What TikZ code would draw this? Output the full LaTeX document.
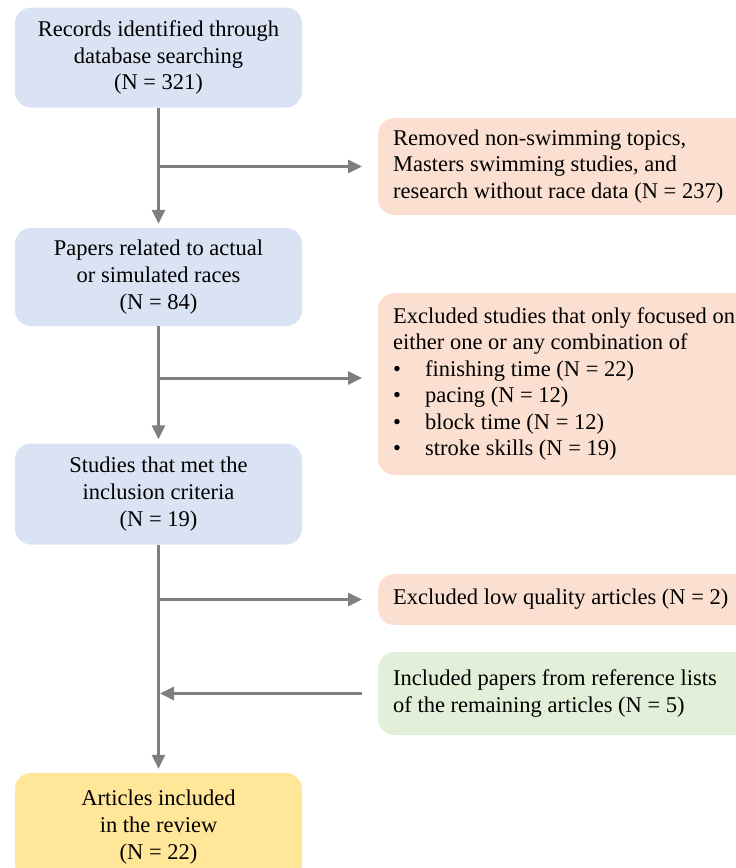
\documentclass[tikz,border=0pt]{standalone}
\usepackage{fontspec}
\setmainfont{Liberation Serif}
\usetikzlibrary{arrows.meta}
\definecolor{boxblue}{HTML}{DAE3F3}
\definecolor{boxpink}{HTML}{FBE0D2}
\definecolor{boxgreen}{HTML}{E2F0D9}
\definecolor{boxyellow}{HTML}{FFE699}
\definecolor{arrgray}{HTML}{7F7F7F}
\tikzset{
  lbox/.style={rounded corners=16pt, inner sep=0pt, minimum width=287pt,
    align=center, font=\fontsize{22.5}{26.8}\selectfont},
  rbox/.style={rounded corners=16pt, anchor=west, inner xsep=15pt, inner ysep=0pt,
    text width=420pt, align=flush left, font=\fontsize{22.5}{26.4}\selectfont, fill=boxpink},
  arr/.style={draw=arrgray, line width=3pt, -{Triangle[length=14pt,width=13pt]}}
}
\newcommand{\bul}{\makebox[32pt][l]{•}}
\begin{document}
\begin{tikzpicture}[x=1pt,y=-1pt]
\useasboundingbox (0,0) rectangle (736,868);
% left column
\node[lbox, fill=boxblue, minimum height=100pt] (b1) at (158.5,57.5)
  {Records identified through\\database searching\\(N = 321)};
\node[lbox, fill=boxblue, minimum height=98pt] (b2) at (158.5,277)
  {Papers related to actual\\or simulated races\\(N = 84)};
\node[lbox, fill=boxblue, minimum height=101pt] (b3) at (158.5,494)
  {Studies that met the\\inclusion criteria\\(N = 19)};
\node[lbox, fill=boxyellow, minimum height=108pt] (b4) at (158.5,827)
  {Articles included\\in the review\\(N = 22)};
% right column
\node[rbox, minimum height=97pt] (r1) at (378,166.5)
  {Removed non-swimming topics,\\Masters swimming studies, and\\research without race data (N = 237)};
\node[rbox, minimum height=182pt] (r2) at (378,384)
  {Excluded studies that only focused on\\either one or any combination of\\
   \bul finishing time (N = 22)\\\bul pacing (N = 12)\\\bul block time (N = 12)\\\bul stroke skills (N = 19)};
\node[rbox, minimum height=51pt] (r3) at (378,599.5)
  {Excluded low quality articles (N = 2)};
\node[rbox, fill=boxgreen, minimum height=83pt] (r4) at (378,693.5)
  {Included papers from reference lists\\of the remaining articles (N = 5)};
% connectors
\coordinate (j1) at (b1.south |- r1.west);
\coordinate (j2) at (158.5,378);
\coordinate (j3) at (b3.south |- r3.west);
\draw[arr, shorten >=4pt] (b1.south) -- (b2.north);
\draw[arr, shorten >=4pt] (b2.south) -- (b3.north);
\draw[arr, shorten >=4pt] (b3.south) -- (b4.north);
\draw[arr, shorten <=-1.5pt, shorten >=16pt] (j1) -- (r1.west);
\draw[arr, shorten <=-1.5pt, shorten >=16pt] (j2) -- (j2 -| r2.west);
\draw[arr, shorten <=-1.5pt, shorten >=16pt] (j3) -- (r3.west);
\draw[arr, shorten <=16pt, shorten >=1.5pt] (r4.west) -- (r4.west -| b3.south);
\end{tikzpicture}
\end{document}
